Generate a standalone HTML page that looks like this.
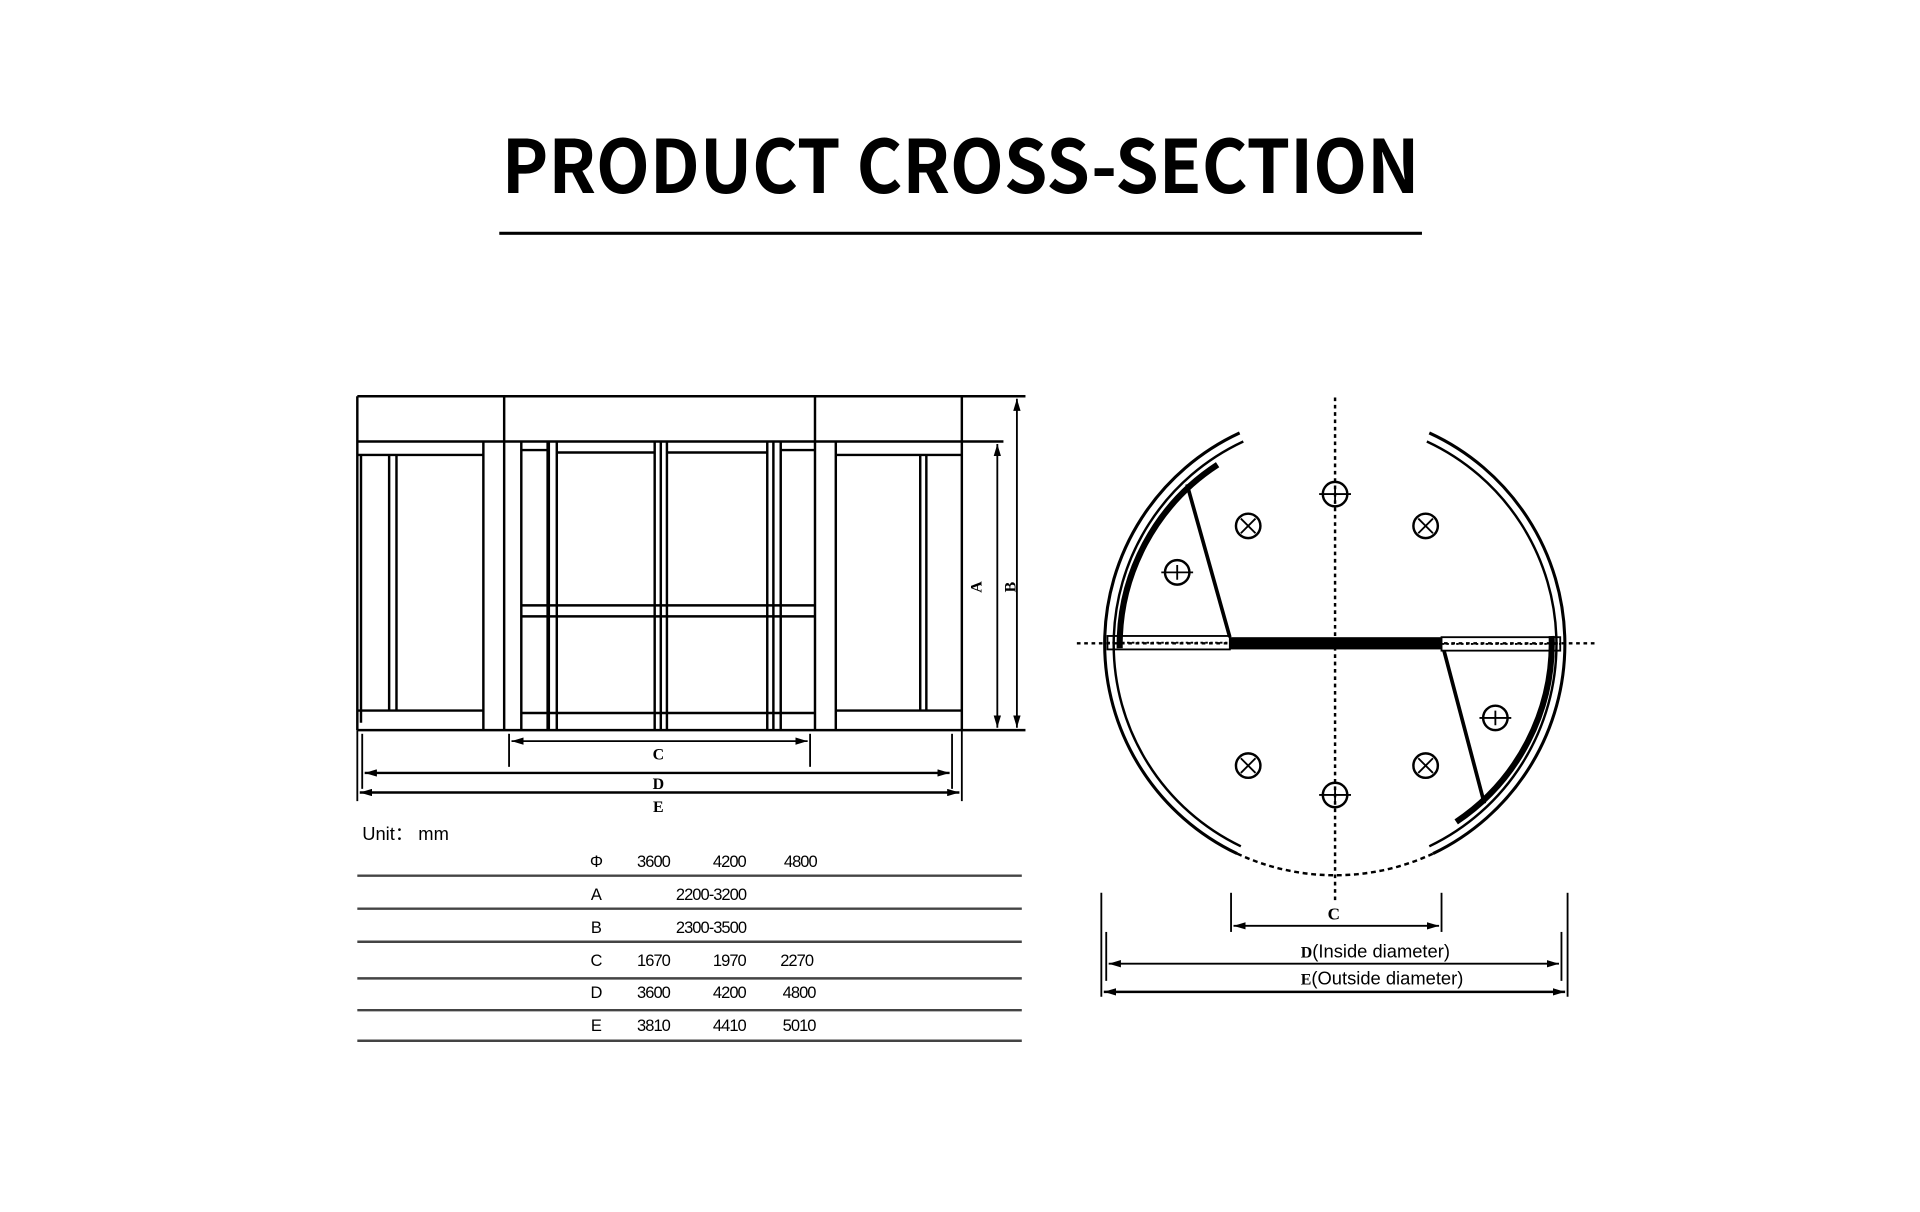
<!DOCTYPE html>
<html><head><meta charset="utf-8"><style>
html,body{margin:0;padding:0;background:#fff;width:1920px;height:1212px;overflow:hidden}
svg{display:block}
</style></head><body>
<svg width="1920" height="1212" viewBox="0 0 1569 991" preserveAspectRatio="none" xmlns="http://www.w3.org/2000/svg">
<defs>
<marker id="ar" viewBox="0 0 10 6" refX="10" refY="3" markerWidth="10" markerHeight="6" orient="auto-start-reverse" markerUnits="userSpaceOnUse"><path d="M0,0 L10,3 L0,6 z" fill="#000"/></marker>
</defs>
<text x="410" y="158" textLength="750" lengthAdjust="spacingAndGlyphs" font-family="Noto Sans CJK SC, Liberation Sans, sans-serif" font-weight="bold" font-size="60" fill="#000">PRODUCT CROSS-SECTION</text>
<rect x="408" y="189.5" width="754" height="2.5" fill="#000"/>

<g stroke="#000" stroke-width="2" fill="none">
<line x1="292" y1="324" x2="838" y2="324"/>
<line x1="292" y1="361" x2="820" y2="361"/>
<line x1="292" y1="597" x2="838" y2="597"/>
<line x1="292" y1="324" x2="292" y2="597"/>
<line x1="786" y1="324" x2="786" y2="597"/>
<line x1="412" y1="324" x2="412" y2="597"/>
<line x1="666" y1="324" x2="666" y2="597"/>
<line x1="295" y1="372" x2="295" y2="591"/>
<line x1="318" y1="372" x2="318" y2="581"/>
<line x1="324" y1="372" x2="324" y2="581"/>
<line x1="395" y1="361" x2="395" y2="597"/>
<line x1="292" y1="372" x2="395" y2="372"/>
<line x1="292" y1="581" x2="395" y2="581"/>
<line x1="426" y1="361" x2="426" y2="597"/>
<line x1="448" y1="361" x2="448" y2="597" stroke-width="3"/>
<line x1="455" y1="361" x2="455" y2="597"/>
<line x1="535" y1="361" x2="535" y2="597"/>
<line x1="540" y1="361" x2="540" y2="597"/>
<line x1="545" y1="361" x2="545" y2="597"/>
<line x1="627" y1="361" x2="627" y2="597"/>
<line x1="632" y1="361" x2="632" y2="597"/>
<line x1="638" y1="361" x2="638" y2="597"/>
<line x1="426" y1="368" x2="448" y2="368"/>
<line x1="455" y1="370" x2="535" y2="370"/>
<line x1="545" y1="370" x2="627" y2="370"/>
<line x1="638" y1="368" x2="666" y2="368"/>
<line x1="426" y1="495" x2="666" y2="495"/>
<line x1="426" y1="504" x2="666" y2="504"/>
<line x1="426" y1="583" x2="666" y2="583"/>
<line x1="683" y1="361" x2="683" y2="597"/>
<line x1="752" y1="372" x2="752" y2="581"/>
<line x1="757" y1="372" x2="757" y2="581"/>
<line x1="683" y1="372" x2="786" y2="372"/>
<line x1="683" y1="581" x2="786" y2="581"/>
<line x1="815" y1="363" x2="815" y2="595" marker-start="url(#ar)" marker-end="url(#ar)" stroke-width="1.5"/>
<line x1="831" y1="326" x2="831" y2="595" marker-start="url(#ar)" marker-end="url(#ar)" stroke-width="1.5"/>
<line x1="416" y1="600" x2="416" y2="627" stroke-width="1.5"/>
<line x1="662" y1="600" x2="662" y2="627" stroke-width="1.5"/>
<line x1="418" y1="606" x2="660" y2="606" marker-start="url(#ar)" marker-end="url(#ar)" stroke-width="1.5"/>
<line x1="296" y1="600" x2="296" y2="645" stroke-width="1.5"/>
<line x1="778" y1="600" x2="778" y2="645" stroke-width="1.5"/>
<line x1="298" y1="632" x2="776" y2="632" marker-start="url(#ar)" marker-end="url(#ar)" stroke-width="2"/>
<line x1="292" y1="597" x2="292" y2="655" stroke-width="1.5"/>
<line x1="786" y1="597" x2="786" y2="655" stroke-width="1.5"/>
<line x1="294" y1="648" x2="784" y2="648" marker-start="url(#ar)" marker-end="url(#ar)" stroke-width="2"/>
</g>
<g font-family="Liberation Serif, serif" font-weight="bold" font-size="13" text-anchor="middle">
<text x="538" y="621">C</text><text x="538" y="645">D</text><text x="538" y="664">E</text>
<text transform="translate(802,480) rotate(-90)">A</text>
<text transform="translate(830,480) rotate(-90)">B</text>
</g>

<text x="296" y="687" font-family="Liberation Sans, sans-serif" font-size="15">Unit： mm</text>
<g stroke="#444" stroke-width="2">
<line x1="292" y1="716" x2="835" y2="716"/><line x1="292" y1="743" x2="835" y2="743"/>
<line x1="292" y1="770" x2="835" y2="770"/><line x1="292" y1="800" x2="835" y2="800"/>
<line x1="292" y1="826" x2="835" y2="826"/><line x1="292" y1="851" x2="835" y2="851"/>
</g>
<g font-family="Liberation Sans, sans-serif" font-size="13.5" text-anchor="middle" letter-spacing="-0.8">
<text x="487" y="709">Φ</text><text x="534" y="709">3600</text><text x="596" y="709">4200</text><text x="654" y="709">4800</text>
<text x="487" y="736">A</text><text x="581" y="736">2200-3200</text>
<text x="487" y="763">B</text><text x="581" y="763">2300-3500</text>
<text x="487" y="790">C</text><text x="534" y="790">1670</text><text x="596" y="790">1970</text><text x="651" y="790">2270</text>
<text x="487" y="816">D</text><text x="534" y="816">3600</text><text x="596" y="816">4200</text><text x="653" y="816">4800</text>
<text x="487" y="843">E</text><text x="534" y="843">3810</text><text x="596" y="843">4410</text><text x="653" y="843">5010</text>
</g>

<g stroke="#000" fill="none">
<line x1="880" y1="526" x2="1306" y2="526" stroke-width="2" stroke-dasharray="3,3"/>
<line x1="1091" y1="325" x2="1091" y2="736" stroke-width="2" stroke-dasharray="3,3"/>
<path d="M1013,354 A190,190 0 0 0 1011,698" stroke-width="2.5"/>
<path d="M1016,361 A183,183 0 0 0 1014,692" stroke-width="2"/>
<path d="M1168,354 A190,190 0 0 1 1171,698" stroke-width="2.5"/>
<path d="M1166,361 A183,183 0 0 1 1168,692" stroke-width="2"/>
<path d="M1011,698 A190,190 0 0 0 1171,698" stroke-width="2" stroke-dasharray="4,3"/>
<path d="M995,380 A176,176 0 0 0 915,530" stroke-width="5"/>
<path d="M1190,672 A176,176 0 0 0 1268,520" stroke-width="5"/>
<line x1="970" y1="396" x2="1005" y2="521" stroke-width="3"/>
<line x1="1180" y1="532" x2="1213" y2="657" stroke-width="3"/>
<rect x="905" y="520" width="100" height="11" stroke-width="1.5"/>
<line x1="905" y1="525.5" x2="1005" y2="525.5" stroke-width="1.5" stroke-dasharray="2,2"/>
<rect x="1178" y="521" width="97" height="11" stroke-width="1.5"/>
<line x1="1178" y1="526.5" x2="1275" y2="526.5" stroke-width="1.5" stroke-dasharray="2,2"/>
</g>
<rect x="1005" y="521" width="173" height="10" fill="#000"/>
<g stroke="#000" stroke-width="2" fill="none">
<circle cx="1091" cy="404" r="10"/><circle cx="1020" cy="430" r="10"/><circle cx="1165" cy="430" r="10"/>
<circle cx="962" cy="468" r="10"/><circle cx="1222" cy="587" r="10"/><circle cx="1020" cy="626" r="10"/>
<circle cx="1165" cy="626" r="10"/><circle cx="1091" cy="650" r="10"/>
</g>
<g stroke="#000" stroke-width="1.5">
<path d="M1078,404h26M1091,398v12M1014,424l12,12M1026,424l-12,12M1159,424l12,12M1171,424l-12,12M949,468h26M962,462v12M1209,587h26M1222,581v12M1014,620l12,12M1026,620l-12,12M1159,620l12,12M1171,620l-12,12M1078,650h26M1091,644v12"/>
</g>
<g stroke="#000" stroke-width="1.5">
<line x1="1006" y1="730" x2="1006" y2="762"/><line x1="1178" y1="730" x2="1178" y2="762"/>
<line x1="1008" y1="757" x2="1176" y2="757" marker-start="url(#ar)" marker-end="url(#ar)"/>
<line x1="904" y1="762" x2="904" y2="802"/><line x1="1276" y1="762" x2="1276" y2="802"/>
<line x1="906" y1="788" x2="1274" y2="788" marker-start="url(#ar)" marker-end="url(#ar)"/>
<line x1="900" y1="730" x2="900" y2="815"/><line x1="1281" y1="730" x2="1281" y2="815"/>
<line x1="902" y1="811" x2="1279" y2="811" marker-start="url(#ar)" marker-end="url(#ar)" stroke-width="2"/>
</g>
<text x="1090" y="752" text-anchor="middle" font-family="Liberation Serif, serif" font-weight="bold" font-size="14">C</text>
<text x="1063" y="783" font-family="Liberation Sans, sans-serif" font-size="15"><tspan font-family="Liberation Serif, serif" font-weight="bold" font-size="13">D</tspan>(Inside diameter)</text>
<text x="1063" y="805" font-family="Liberation Sans, sans-serif" font-size="15"><tspan font-family="Liberation Serif, serif" font-weight="bold" font-size="13">E</tspan>(Outside diameter)</text>
</svg>
</body></html>
